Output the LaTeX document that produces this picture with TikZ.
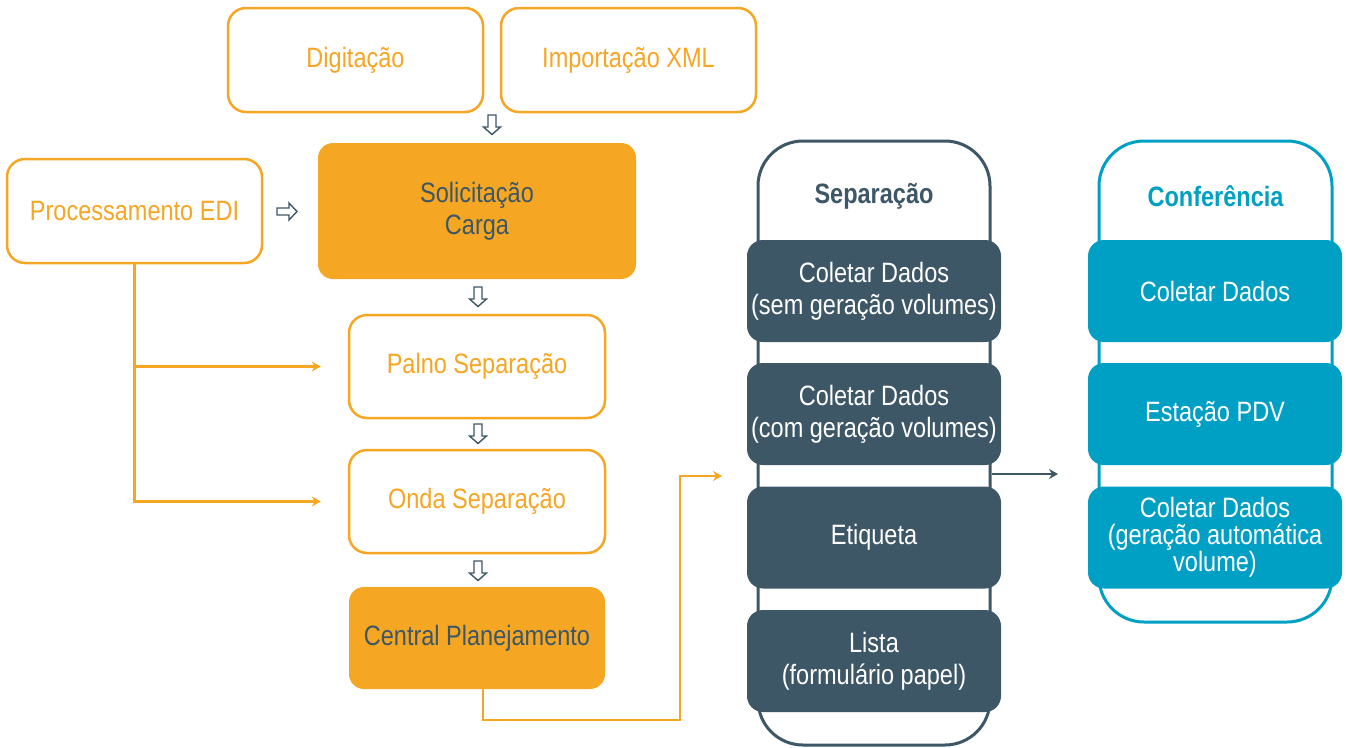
\documentclass[tikz,border=0pt]{standalone}
\usepackage{fontspec}
\setmainfont{Liberation Sans}[FakeStretch=0.84]
\usetikzlibrary{arrows.meta}
\definecolor{org}{HTML}{F5A623}
\definecolor{slate}{HTML}{3D5767}
\definecolor{teal}{HTML}{00A0C4}
\tikzset{
  obox/.style={draw=org, line width=2.5pt, rounded corners=18pt, fill=white, text=org,
    minimum width=255pt, minimum height=104pt, inner sep=0pt, font=\fontsize{28}{32}\selectfont, align=center},
  ofill/.style={fill=org, rounded corners=15pt, text=slate, inner sep=0pt,
    font=\fontsize{28}{32}\selectfont, align=center},
  cont/.style={line width=3pt, rounded corners=45pt, fill=white, inner sep=0pt},
  dbox/.style={fill=slate, text=white, rounded corners=16pt, minimum width=254pt, minimum height=102pt,
    inner sep=0pt, font=\fontsize{28}{32}\selectfont, align=center},
  tbox/.style={dbox, fill=teal},
  ttl/.style={font=\bfseries\fontsize{28}{32}\selectfont},
  oline/.style={draw=org, line width=2.5pt, -{Stealth[length=9pt,width=10pt,inset=3pt]}},
  sline/.style={draw=slate, line width=2pt, -{Stealth[length=9pt,width=10pt,inset=3pt]}},
  hol/.style={draw=slate, line width=1.4pt, fill=white, line join=miter},
  hdown/.pic={\draw[hol] (-4,-10) -- (4,-10) -- (4,2) -- (8.5,2) -- (0,9.5) -- (-8.5,2) -- (-4,2) -- cycle;},
  hright/.pic={\draw[hol] (-10,-3.5) -- (2,-3.5) -- (2,-8.5) -- (10,0) -- (2,8.5) -- (2,3.5) -- (-10,3.5) -- cycle;}
}
\begin{document}
\begin{tikzpicture}[x=1pt,y=-1pt]
\useasboundingbox (0,0) rectangle (1346,747);
% top boxes
\node[obox] (dig) at (355.5,60) {Digitação};
\node[obox] (imp) at (628.5,60) {Importação XML};
\node[obox] (edi) at (134.5,211) {Processamento EDI};
\node[ofill, minimum width=318pt, minimum height=136pt] (sol) at (477,211) {Solicitação\\Carga};
\node[obox, minimum width=256pt, minimum height=103pt] (pal) at (477,366.5) {Palno Separação};
\node[obox, minimum width=256pt, minimum height=103pt] (onda) at (477,501.5) {Onda Separação};
\node[ofill, minimum width=256pt, minimum height=102pt] (cen) at (477,638) {Central Planejamento};
% hollow arrows
\pic at (492,125) {hdown};
\pic at (287,211.5) {hright};
\pic at (478,297) {hdown};
\pic at (478,434) {hdown};
\pic at (478,571) {hdown};
% orange connectors
\draw[oline] (edi.south) |- ([xshift=-27pt]pal.west);
\draw[oline] (edi.south) |- ([xshift=-27pt]onda.west);
\coordinate (sepin) at (722,476);
\coordinate (bend) at (680,720);
\draw[oline] ([xshift=6pt]cen.south) |- (bend) |- (sepin);
% Separacao container
\node[cont, draw=slate, minimum width=232pt, minimum height=604pt] (sep) at (874,443) {};
\node[ttl, text=slate] (septtl) at (874,196) {Separação};
\node[dbox] (s1) at (874,291) {Coletar Dados\\(sem geração volumes)};
\node[dbox] (s2) at (874,414) {Coletar Dados\\(com geração volumes)};
\node[dbox] (s3) at (874,537.5) {Etiqueta};
\node[dbox] (s4) at (874,661) {Lista\\(formulário papel)};
% Conferencia container
\node[cont, draw=teal, minimum width=233pt, minimum height=481pt] (conf) at (1215.5,381.5) {};
\node[ttl, text=teal] (conftl) at (1215.5,196) {Conferência};
\node[tbox] (c1) at (1215,291) {Coletar Dados};
\node[tbox] (c2) at (1215,414) {Estação PDV};
\node[tbox, font=\fontsize{28}{27}\selectfont] (c3) at (1215,537.5) {Coletar Dados\\(geração automática\\volume)};
\coordinate (confin) at (1058,474);
\draw[sline] (sep.east |- confin) -- (confin);
\end{tikzpicture}
\end{document}
